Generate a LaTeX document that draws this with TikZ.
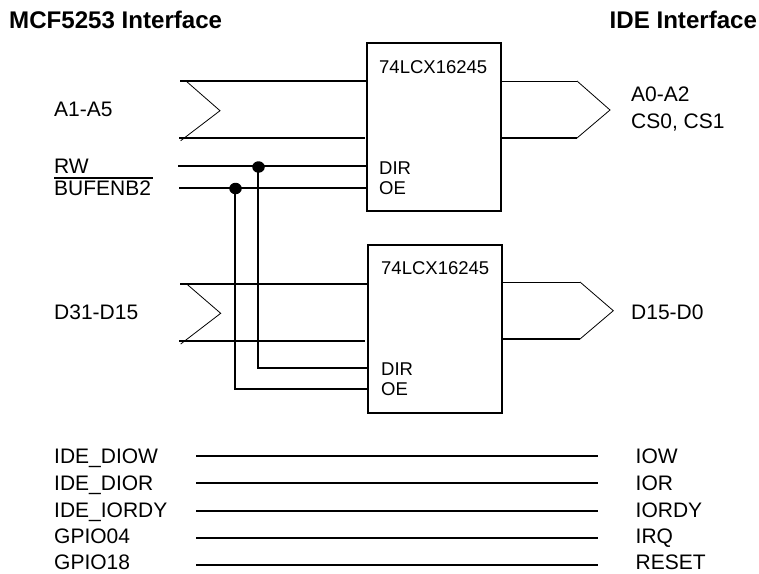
\documentclass[tikz,border=0pt]{standalone}
\usepackage{fontspec}
\setmainfont{Liberation Sans}
\usetikzlibrary{shapes.geometric}
\tikzset{
  x=1pt,y=-1pt,
  lab/.style={anchor=base west,inner sep=0pt,font=\fontsize{21}{24}\selectfont},
  iclab/.style={anchor=base west,inner sep=0pt,font=\fontsize{18.5}{22}\selectfont},
  head/.style={anchor=base west,inner sep=0pt,font=\fontsize{24.1}{28}\selectfont\bfseries},
  ic/.style={draw,line width=1.5pt,rectangle,inner sep=0pt,minimum width=134pt,minimum height=168pt},
  wire/.style={line width=1.5pt},
  thin wire/.style={line width=0.9pt},
  chev/.style={line width=0.8pt},
  jdot/.style={ellipse,fill=black,inner sep=0pt,minimum width=12.5pt,minimum height=11.5pt},
}
\begin{document}
\begin{tikzpicture}
\useasboundingbox (0,0) rectangle (759,573);
% headers
\node[head] (h1) at (9,28) {MCF5253 Interface};
\node[head] (h2) at (609.5,28) {IDE Interface};
% ICs
\node[ic] (u1) at (434,127) {};
\node[ic] (u2) at (435,329) {};
\node[iclab] (u1t) at (379,73.5) {74LCX16245};
\node[iclab] (u1d) at (379,174) {DIR};
\node[iclab] (u1o) at (379,194) {OE};
\node[iclab] (u2t) at (381,274.5) {74LCX16245};
\node[iclab] (u2d) at (381,375) {DIR};
\node[iclab] (u2o) at (381,395) {OE};
% left labels
\node[lab] (a15) at (54,116) {A1-A5};
\node[lab] (rw) at (54,173) {RW};
\node[lab] (buf) at (54,195) {BUFENB2};
\node[lab] (d31) at (54,319) {D31-D15};
% right labels
\node[lab] (a02) at (631,101) {A0-A2};
\node[lab] (cs) at (631,128) {CS0, CS1};
\node[lab] (d15) at (631,319) {D15-D0};
% overbar
\coordinate (obl) at (54,178);
\coordinate (obr) at (153,178);
\draw[wire] (obl) -- (obr);
% upper bus
\coordinate (a1) at (180,81);
\coordinate (a2) at (179,138);
\coordinate (a2e) at (365,138);
\coordinate (ac1) at (186,81);
\coordinate (act) at (220,110.7);
\coordinate (ac2) at (180.7,140.7);
\draw[wire] (a1) -- (a1 -| u1.west);
\draw[wire] (a2) -- (a2e);
\draw[chev] (ac1) -- (act) -- (ac2);
\coordinate (ar1) at (577,81);
\coordinate (ar2) at (577,138);
\coordinate (art) at (610,110);
\draw[thin wire] (ar1 -| u1.east) -- (ar1);
\draw[wire] (ar2 -| u1.east) -- (ar2);
\draw[chev] (ar1) -- (art) -- (ar2);
% control
\coordinate (rws) at (178,166);
\coordinate (bufs) at (179,188);
\draw[wire] (rws) -- (rws -| u1.west);
\draw[wire] (bufs) -- (bufs -| u1.west);
\node[jdot] (j1) at (258.5,167) {};
\node[jdot] (j2) at (235.5,188.5) {};
% lower bus
\coordinate (b1) at (180,284);
\coordinate (b2) at (179,341);
\coordinate (b2e) at (365,341);
\coordinate (bc1) at (186.7,284);
\coordinate (bct) at (220.7,313.3);
\coordinate (bc2) at (180.7,344);
\draw[wire] (b1) -- (b1 -| u2.west);
\draw[wire] (b2) -- (b2e);
\draw[chev] (bc1) -- (bct) -- (bc2);
\coordinate (br1) at (580,282);
\coordinate (br2) at (580,339);
\coordinate (brt) at (613.3,310.7);
\draw[thin wire] (br1 -| u2.east) -- (br1);
\draw[wire] (br2 -| u2.east) -- (br2);
\draw[chev] (br1) -- (brt) -- (br2);
% verticals
\coordinate (dir2) at (368,368);
\coordinate (oe2) at (368,389);
\coordinate (v1) at (258,167);
\coordinate (v2) at (235,188.5);
\draw[wire] (v1) |- (dir2);
\draw[wire] (v2) |- (oe2);
% straight signals
\foreach \nm/\l/\r/\yl/\yb in {w/IDE\_DIOW/IOW/456/463,
  r/IDE\_DIOR/IOR/483/490,
  y/IDE\_IORDY/IORDY/511/517,
  q/GPIO04/IRQ/538/543,
  s/GPIO18/RESET/565/569.5}{
  \node[lab] (l\nm) at (54,\yb) {\l};
  \node[lab] (r\nm) at (635.5,\yb) {\r};
  \coordinate (ws\nm) at (196,\yl);
  \coordinate (we\nm) at (598,\yl);
  \draw[wire] (ws\nm) -- (we\nm);
}
\end{tikzpicture}
\end{document}
